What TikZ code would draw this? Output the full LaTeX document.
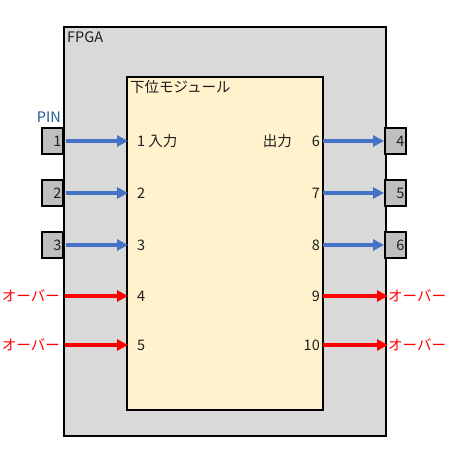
\documentclass[tikz,border=0pt]{standalone}
\usepackage{fontspec}
\setmainfont{Noto Sans CJK JP}
\usetikzlibrary{arrows.meta}
\definecolor{fpgagray}{RGB}{217,217,217}
\definecolor{modfill}{RGB}{255,242,204}
\definecolor{pingray}{RGB}{191,191,191}
\definecolor{arrblue}{RGB}{68,114,196}
\definecolor{pinblue}{RGB}{31,90,150}
\definecolor{txt}{RGB}{30,30,30}
\begin{document}
\begin{tikzpicture}[x=1pt,y=-1pt,
  font=\fontsize{14.5}{17}\selectfont,
  every node/.style={text=txt},
  bigbox/.style={draw=black,line width=2pt,anchor=north west,inner sep=0pt},
  pinbox/.style={draw=black,line width=2pt,fill=pingray,minimum width=21pt,minimum height=26pt,inner sep=0pt,text width=18pt,align=right},
  bluearr/.style={draw=arrblue,line width=3.5pt,-{Triangle[length=11pt,width=11pt]}},
  redarr/.style={draw=red,line width=3.5pt,-{Triangle[length=11pt,width=11pt]}},
  redlbl/.style={text=red,inner sep=0pt},
  lbl/.style={inner sep=0pt}]
\useasboundingbox (0,0) rectangle (449,461);
\node[bigbox,fill=fpgagray,minimum width=322pt,minimum height=409pt] (fpga) at (63,26) {};
\node[lbl,anchor=north west] (fpgalbl) at (67,31) {FPGA};
\node[bigbox,fill=modfill,minimum width=196pt,minimum height=333pt] (mod) at (126,76) {};
\node[lbl,anchor=north west] (modlbl) at (130,80) {下位モジュール};
\node[lbl,anchor=south east,text=pinblue] (pinlbl) at (61,123) {PIN};
% left pins
\node[pinbox] (p1) at (52.5,141) {1};
\node[pinbox] (p2) at (52.5,193) {2};
\node[pinbox] (p3) at (52.5,245) {3};
% right pins
\node[pinbox] (q4) at (395.5,141) {4};
\node[pinbox] (q5) at (395.5,193) {5};
\node[pinbox] (q6) at (395.5,245) {6};
% module inputs
\coordinate (in1) at (128,141);
\coordinate (in2) at (128,193);
\coordinate (in3) at (128,245);
\coordinate (in4) at (128,296);
\coordinate (in5) at (128,345);
\node[lbl,anchor=west] (l1) at (137,141) {1 入力};
\node[lbl,anchor=west] (l2) at (137,193) {2};
\node[lbl,anchor=west] (l3) at (137,245) {3};
\node[lbl,anchor=west] (l4) at (137,296) {4};
\node[lbl,anchor=west] (l5) at (137,345) {5};
% module outputs
\coordinate (out6) at (323,141);
\coordinate (out7) at (323,193);
\coordinate (out8) at (323,245);
\coordinate (out9) at (323,296);
\coordinate (out10) at (323,345);
\node[lbl,anchor=east] (r6) at (320,141) {6};
\node[lbl,anchor=east] (rout) at (292,141) {出力};
\node[lbl,anchor=east] (r7) at (320,193) {7};
\node[lbl,anchor=east] (r8) at (320,245) {8};
\node[lbl,anchor=east] (r9) at (320,296) {9};
\node[lbl,anchor=east] (r10) at (320,345) {10};
% red labels
\node[redlbl,anchor=east] (ol4) at (60,296) {オーバー};
\node[redlbl,anchor=east] (ol5) at (60,345) {オーバー};
\node[redlbl,anchor=west] (or9) at (388,296) {オーバー};
\node[redlbl,anchor=west] (or10) at (388,345) {オーバー};
\coordinate (rs4) at (65,296);
\coordinate (rs5) at (65,345);
\coordinate (re9) at (388,296);
\coordinate (re10) at (388,345);
% arrows
\draw[bluearr] (p1.east) ++(2pt,0) -- (in1);
\draw[bluearr] (p2.east) ++(2pt,0) -- (in2);
\draw[bluearr] (p3.east) ++(2pt,0) -- (in3);
\draw[bluearr] (out6) -- (q4.west);
\draw[bluearr] (out7) -- (q5.west);
\draw[bluearr] (out8) -- (q6.west);
\draw[redarr] (rs4) -- (in4);
\draw[redarr] (rs5) -- (in5);
\draw[redarr] (out9) -- (re9);
\draw[redarr] (out10) -- (re10);
\end{tikzpicture}
\end{document}
